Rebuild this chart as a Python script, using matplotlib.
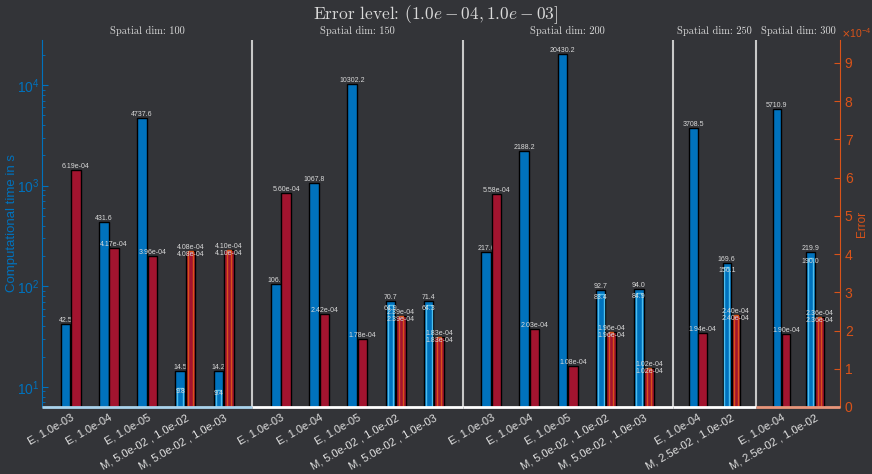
import numpy as np
from matplotlib import pyplot as plt
from matplotlib.ticker import LogLocator, FuncFormatter

# 颜色
bg = '#333438'
blue = '#0072BD'
red = '#A2142F'
orange = '#D95319'
light_blue = '#4DBEEE'
text_grey = '#d9d9d9'

plt.rcParams['font.family'] = ['Liberation Sans', 'DejaVu Sans']

# 数据
dims = [100, 150, 200, 250, 300]
cat_labels = [
    ['E, 1.0e-03', 'E, 1.0e-04', 'E, 1.0e-05', 'M, 5.0e-02 , 1.0e-02', 'M, 5.0e-02 , 1.0e-03'],
    ['E, 1.0e-03', 'E, 1.0e-04', 'E, 1.0e-05', 'M, 5.0e-02 , 1.0e-02', 'M, 5.0e-02 , 1.0e-03'],
    ['E, 1.0e-03', 'E, 1.0e-04', 'E, 1.0e-05', 'M, 5.0e-02 , 1.0e-02', 'M, 5.0e-02 , 1.0e-03'],
    ['E, 1.0e-04', 'M, 2.5e-02 , 1.0e-02'],
    ['E, 1.0e-04', 'M, 2.5e-02 , 1.0e-02'],
]
time_vals = [
    [42.5, 431.6, 4737.6, 14.5, 14.2],
    [106.1, 1067.8, 10302.2, 70.7, 71.4],
    [217.6, 2188.2, 20430.2, 92.7, 94.0],
    [3708.5, 169.6],
    [5710.9, 219.9],
]
time_inner = [
    [None, None, None, 9.8, 9.4],
    [None, None, None, 64.9, 64.3],
    [None, None, None, 83.4, 84.9],
    [None, 156.1],
    [None, 190.0],
]
err_vals = [
    [6.19e-04, 4.17e-04, 3.96e-04, 4.08e-04, 4.10e-04],
    [5.60e-04, 2.42e-04, 1.78e-04, 2.39e-04, 1.83e-04],
    [5.58e-04, 2.03e-04, 1.08e-04, 1.96e-04, 1.02e-04],
    [1.94e-04, 2.40e-04],
    [1.90e-04, 2.36e-04],
]
err_inner = [
    [None, None, None, 4.08e-04, 4.10e-04],
    [None, None, None, 2.39e-04, 1.83e-04],
    [None, None, None, 1.96e-04, 1.02e-04],
    [None, 2.40e-04],
    [None, 2.36e-04],
]

# 每组的槽宽 (后两组略窄)
steps = [1, 1, 1, 0.875, 0.875]
base_colors = ['#a9d3ec', 'white', 'white', 'white', '#e8957a']

fig = plt.figure(figsize=(8.72, 4.74), dpi=100, facecolor=bg)
ax = fig.add_axes([42 / 872, 1 - 407 / 474, 798 / 872, 367 / 474])
ax.set_facecolor(bg)
ax2 = ax.twinx()

x0 = 0
all_ticks = []
all_labels = []
bounds = []
for g in range(len(dims)):
    s = steps[g]
    n = len(time_vals[g])
    centers = x0 + 0.75 * s + np.arange(n) * s
    w = 0.25 * s
    off = 0.135 * s
    for i, c in enumerate(centers):
        # 计算时间 (左轴, 对数)
        ax.bar(c - off, time_vals[g][i], w, color=blue, edgecolor='black', lw=1, zorder=2)
        ax.text(c - off, time_vals[g][i], '%.1f' % time_vals[g][i], ha='center', va='bottom',
                fontsize=5, color=text_grey, zorder=3)
        if time_inner[g][i] is not None:
            ax.bar(c - off, time_inner[g][i], w * 0.6, color=blue, edgecolor=light_blue, lw=1, zorder=2)
            ax.text(c - off, time_inner[g][i], '%.1f' % time_inner[g][i], ha='center', va='top',
                    fontsize=5, color=text_grey, zorder=3)
        # 误差 (右轴)
        ax2.bar(c + off, err_vals[g][i], w, color=red, edgecolor='black', lw=1, zorder=2)
        ax2.text(c + off, err_vals[g][i], '%.2e' % err_vals[g][i], ha='center', va='bottom',
                 fontsize=5, color=text_grey, zorder=3)
        if err_inner[g][i] is not None:
            ax2.bar(c + off, err_inner[g][i], w * 0.45, color=red, edgecolor=orange, lw=1, zorder=2)
            ax2.text(c + off, err_inner[g][i], '%.2e' % err_inner[g][i], ha='center', va='top',
                     fontsize=5, color=text_grey, zorder=3)
    x1 = x0 + (n + 0.5) * s
    bounds.append((x0, x1))
    all_ticks += list(centers)
    all_labels += cat_labels[g]
    x0 = x1

total = x0
ax.set_xlim(0, total)
ax.set_yscale('log')
ax.set_ylim(6.3, 28000)
ax2.set_ylim(0, 9.6e-4)

# 分组线, 底线, 组标题
for g, (a, b) in enumerate(bounds):
    if g < len(bounds) - 1:
        ax2.axvline(b, color='#c8c8c8', lw=1.5, zorder=4)
    ax2.hlines(0, a, b, colors=base_colors[g], lw=2, zorder=5, clip_on=False)
    ax2.text((a + b) / 2, 1.012, 'Spatial dim: %d' % dims[g],
             transform=ax2.get_xaxis_transform(), ha='center', va='bottom',
             fontsize=7.5, color=text_grey, family='cmr10')

fig.text(0.5, 0.993, r'Error level: $(1.0e-04, 1.0e-03]$', ha='center', va='top',
         fontsize=12.5, color=text_grey, family='cmr10', math_fontfamily='cm')

# x 轴
ax.set_xticks(all_ticks)
ax.set_xticklabels(all_labels, rotation=30, ha='right', rotation_mode='anchor')
ax.tick_params(axis='x', direction='in', length=3, color='#bbbbbb', labelcolor='#e0e0e0',
               labelsize=8, pad=4)

# 左轴
for k in ['top', 'bottom', 'right']:
    ax.spines[k].set_visible(False)
ax.spines['left'].set_color(blue)
ax.yaxis.set_major_locator(LogLocator(base=10, numticks=10))
ax.yaxis.set_minor_locator(LogLocator(base=10, subs=np.arange(2, 10), numticks=20))
ax.tick_params(axis='y', which='major', direction='in', length=4, colors=blue, labelsize=10, pad=2)
ax.tick_params(axis='y', which='minor', direction='in', length=2, colors=blue)
ax.set_ylabel('Computational time in s', color=blue, fontsize=9.5, labelpad=-1)

# 右轴, 刻度以 1e-4 为单位
for k in ['top', 'bottom', 'left']:
    ax2.spines[k].set_visible(False)
ax2.spines['right'].set_color(orange)
ax2.set_yticks(np.arange(0, 10) * 1e-4)
ax2.yaxis.set_major_formatter(FuncFormatter(lambda v, p: '%d' % round(v * 1e4)))
ax2.tick_params(axis='y', direction='in', length=4, colors=orange, labelsize=10)
ax2.set_ylabel('Error', color=orange, fontsize=8.5, labelpad=2)
ax2.text(1.001, 1.0, r'$\times\mathdefault{10^{-4}}$', transform=ax2.transAxes, ha='left',
         va='bottom', fontsize=7.5, color=orange)

plt.savefig('out.png', dpi=100, facecolor=bg)
